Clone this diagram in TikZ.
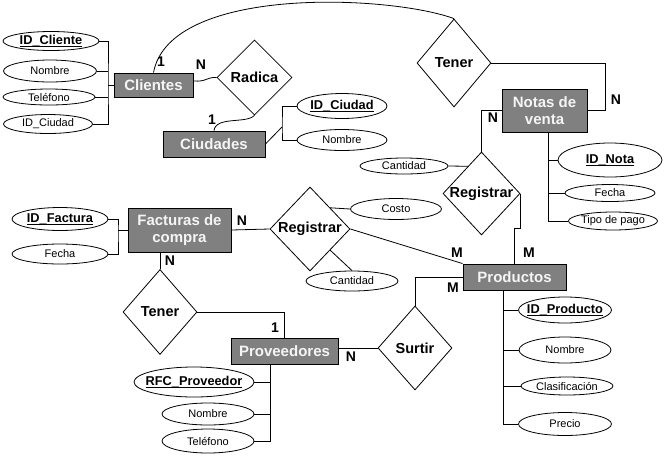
\documentclass[tikz,border=0pt]{standalone}
\usepackage{fontspec}
\setmainfont{Liberation Sans}
\usetikzlibrary{shapes.geometric,calc}
\definecolor{entgray}{RGB}{128,128,128}
\definecolor{enttext}{RGB}{245,245,245}

% key attribute: underline drawn level with the underscore
\newcommand\keyul[1]{\setbox0\hbox{#1}\rlap{\rule[-1.9pt]{\wd0}{0.8pt}}\box0}

\tikzset{
  link/.style={draw=black, line width=0.8pt},
  entity/.style={rectangle, draw=black, line width=0.9pt, fill=entgray, text=enttext,
    font=\fontsize{15}{17}\selectfont\bfseries, align=center, inner sep=0pt},
  rel/.style={diamond, draw=black, line width=0.8pt, fill=white, inner sep=0pt},
  reltext/.style={font=\fontsize{14.5}{16}\selectfont\bfseries, inner sep=0pt},
  attr/.style={ellipse, draw=black, line width=0.8pt, fill=white, inner sep=0pt},
  attrtext/.style={font=\fontsize{11}{13}\selectfont, inner sep=0pt},
  keytext/.style={font=\fontsize{12.8}{15}\selectfont\bfseries, inner sep=0pt},
  card/.style={font=\fontsize{14}{16}\selectfont\bfseries, inner sep=0pt}
}

\begin{document}
\begin{tikzpicture}[x=1pt, y=-1pt]
\fill[white] (0,0) rectangle (665,459);
\useasboundingbox (0,0) rectangle (665,459);

% ---------- entities ----------
\node[entity, minimum width=79, minimum height=24] (cli) at (153.5,85) {Clientes};
\node[entity, minimum width=102, minimum height=26] (ciu) at (214,144) {Ciudades};
\node[entity, minimum width=85, minimum height=43] (notas) at (544.5,110.5) {Notas de\\venta};
\node[entity, minimum width=103, minimum height=44] (fact) at (179.5,230) {Facturas de\\compra};
\node[entity, minimum width=103, minimum height=26] (prod) at (514.5,277) {Productos};
\node[entity, minimum width=107, minimum height=26] (prov) at (284.5,351) {Proveedores};

% ---------- relationships ----------
\node[rel, minimum width=75, minimum height=75, label={[reltext]center:Radica}] (radica) at (254.5,77.5) {};
\node[rel, minimum width=74, minimum height=88, label={[reltext]center:Tener}] (tener1) at (454,63) {};
\node[rel, minimum width=77, minimum height=83, label={[reltext]center:Registrar}] (reg1) at (481.5,193.5) {};
\node[rel, minimum width=80, minimum height=84, label={[reltext]center:Registrar}] (reg2) at (310,229) {};
\node[rel, minimum width=74, minimum height=85, label={[reltext]center:Tener}] (tener2) at (160,312) {};
\node[rel, minimum width=74, minimum height=84, label={[reltext]center:Surtir}] (surtir) at (415,348) {};

% ---------- attributes ----------
\node[attr, minimum width=96, minimum height=19, label={[keytext]center:\keyul{ID\_Cliente}}] (a_idcli) at (51,41) {};
\node[attr, minimum width=93, minimum height=22, label={[attrtext]center:Nombre}] (a_nomcli) at (50,71) {};
\node[attr, minimum width=92, minimum height=16, label={[attrtext]center:Teléfono}] (a_telcli) at (49,97) {};
\node[attr, minimum width=89, minimum height=19, label={[attrtext]center:ID\_Ciudad}] (a_idciucli) at (48,124) {};

\node[attr, minimum width=90, minimum height=25, label={[keytext]center:\keyul{ID\_Ciudad}}] (a_idciu) at (342,106) {};
\node[attr, minimum width=90, minimum height=21, label={[attrtext]center:Nombre}] (a_nomciu) at (342,140) {};

\node[attr, minimum width=104, minimum height=34, label={[keytext]center:\keyul{ID\_Nota}}] (a_idnota) at (610,160) {};
\node[attr, minimum width=90, minimum height=17, label={[attrtext]center:Fecha}] (a_fechanota) at (610,193) {};
\node[attr, minimum width=89, minimum height=18, label={[attrtext]center:Tipo de pago}] (a_tipo) at (613,221) {};

\node[attr, minimum width=88, minimum height=16, label={[attrtext]center:Cantidad}] (a_cant1) at (404,166) {};

\node[attr, minimum width=96, minimum height=23, label={[keytext]center:\keyul{ID\_Factura}}] (a_idfact) at (60,219) {};
\node[attr, minimum width=96, minimum height=20, label={[attrtext]center:Fecha}] (a_fechafact) at (60,254) {};

\node[attr, minimum width=91, minimum height=21, label={[attrtext]center:Costo}] (a_costo) at (396,209) {};
\node[attr, minimum width=92, minimum height=20, label={[attrtext]center:Cantidad}] (a_cant2) at (352,281) {};

\node[attr, minimum width=93, minimum height=26, label={[keytext]center:\keyul{ID\_Producto}}] (a_idprod) at (565,310) {};
\node[attr, minimum width=92, minimum height=26, label={[attrtext]center:Nombre}] (a_nomprod) at (565,350) {};
\node[attr, minimum width=92, minimum height=18, label={[attrtext]center:Clasificación}] (a_clas) at (567,386) {};
\node[attr, minimum width=93, minimum height=23, label={[attrtext]center:Precio}] (a_precio) at (565,424) {};

\node[attr, minimum width=120, minimum height=30, label={[keytext]center:\keyul{RFC\_Proveedor}}] (a_rfc) at (194,382) {};
\node[attr, minimum width=92, minimum height=22, label={[attrtext]center:Nombre}] (a_nomprov) at (208,414) {};
\node[attr, minimum width=92, minimum height=24, label={[attrtext]center:Teléfono}] (a_telprov) at (208,441) {};

% ---------- attribute brackets ----------
\coordinate (bcli) at (108,85);
\draw[link] (a_idcli.east) -| (bcli) |- (a_idciucli.east);
\draw[link] (a_nomcli.east) -- (a_nomcli.east -| bcli);
\draw[link] (a_telcli.east) -- (a_telcli.east -| bcli);
\draw[link] (bcli) -- (cli.west);

\coordinate (bciu) at (282,127);
\draw[link] (ciu.east) -- (bciu);
\draw[link] (a_idciu.west) -| (bciu) |- (a_nomciu.west);

\coordinate (bnot) at (548,132);
\draw[link] (bnot) |- (a_tipo.west);
\draw[link] (a_idnota.west) -- (a_idnota.west -| bnot);
\draw[link] (a_fechanota.west) -- (a_fechanota.west -| bnot);

\coordinate (bfac) at (118,230);
\draw[link] (a_idfact.east) -| (bfac) |- (a_fechafact.east);
\draw[link] (bfac) -- (fact.west);

\coordinate (bprod) at (503,290);
\draw[link] (bprod) |- (a_precio.west);
\draw[link] (a_idprod.west) -- (a_idprod.west -| bprod);
\draw[link] (a_nomprod.west) -- (a_nomprod.west -| bprod);
\draw[link] (a_clas.west) -- (a_clas.west -| bprod);

\coordinate (bprov) at (270,364);
\draw[link] (bprov) |- (a_telprov.east);
\draw[link] (a_rfc.east) -- (a_rfc.east -| bprov);
\draw[link] (a_nomprov.east) -- (a_nomprov.east -| bprov);

% ---------- relationship links ----------
\draw[link] ($(cli.east)+(0,-4)$) .. controls (207,82) and (206,77) .. (radica.west);
\draw[link] (radica.south) .. controls (246,124) and (216,116) .. (ciu.north);
\draw[link] (cli.north) .. controls (170,-15) and (390,-5) .. (tener1.north);
\draw[link] (tener1.east) -| ($(notas.east)+(18,0)$) -- (notas.east);
\draw[link] (notas.west) -| (reg1.north);
\draw[link] (a_cant1.east) -- ($(reg1.north)!0.35!(reg1.west)$);
\draw[link] (reg1.east) |- ($(reg1.east)!0.5!(prod.north)$) -| (prod.north);
\draw[link] (fact.east) -- (reg2.west);
\draw[link] (a_costo.west) -- (reg2.north east);
\draw[link] (reg2.south east) -- (a_cant2.north);
\draw[link] (reg2.east) -- (prod.north west);
\draw[link] (tener2.north |- fact.south) -- (tener2.north);
\draw[link] (tener2.east) -| (prov.north);
\draw[link] (surtir.west -| prov.east) -- (surtir.west);
\draw[link] (surtir.north) |- (prod.west);

% ---------- cardinalities ----------
\node[card] (c1) at (161,62) {1};
\node[card] (c2) at (201,65) {N};
\node[card] (c3) at (212,120) {1};
\node[card] (c4) at (616,100) {N};
\node[card] (c5) at (493,118) {N};
\node[card] (c6) at (242,221) {N};
\node[card] (c7) at (170,261) {N};
\node[card] (c8) at (275,328) {1};
\node[card] (c9) at (351,357) {N};
\node[card] (c10) at (453,288) {M};
\node[card] (c11) at (457,253) {M};
\node[card] (c12) at (529,253) {M};
\end{tikzpicture}
\end{document}
